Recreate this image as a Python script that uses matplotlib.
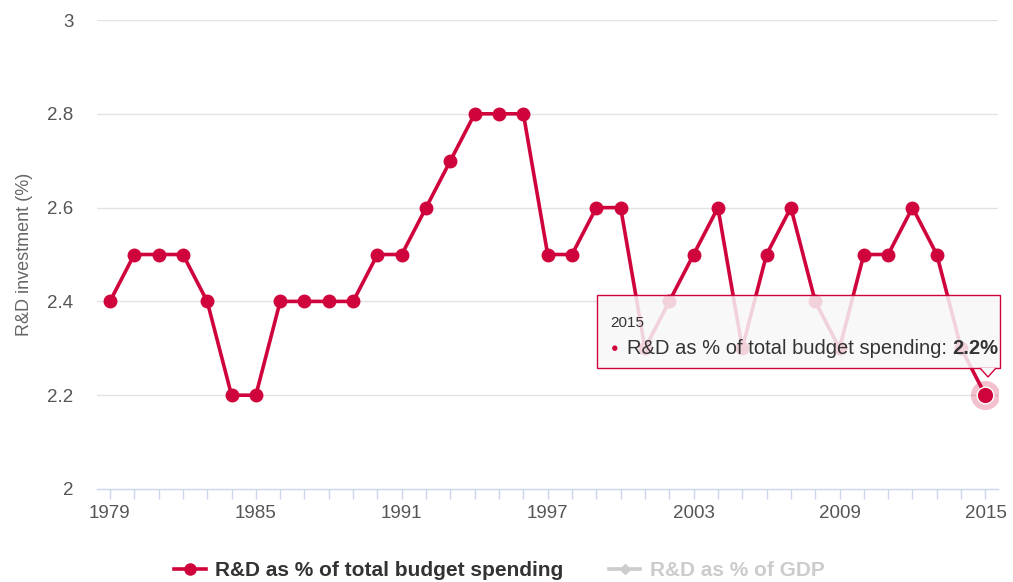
import matplotlib
matplotlib.use("Agg")
import matplotlib.pyplot as plt
from matplotlib.lines import Line2D
from matplotlib.patches import Rectangle, Polygon

# data
years = list(range(1979, 2016))
rd_budget = [2.4, 2.5, 2.5, 2.5, 2.4, 2.2, 2.2, 2.4, 2.4, 2.4,
             2.4, 2.5, 2.5, 2.6, 2.7, 2.8, 2.8, 2.8, 2.5, 2.5,
             2.6, 2.6, 2.3, 2.4, 2.5, 2.6, 2.3, 2.5, 2.6, 2.4,
             2.3, 2.5, 2.5, 2.6, 2.5, 2.3, 2.2]
x_labels = [1979, 1985, 1991, 1997, 2003, 2009, 2015]
y_ticks = [2, 2.2, 2.4, 2.6, 2.8, 3]
series_names = ["R&D as % of total budget spending", "R&D as % of GDP"]

red = "#d0043c"
axis_col = "#ccd6eb"

plt.rcParams['font.family'] = ['Liberation Sans', 'DejaVu Sans']

fig = plt.figure(figsize=(10.13, 5.82), dpi=100)
ax = fig.add_axes([0.0958, 0.1598, 0.889, 0.8058])

# main line
ax.plot(years, rd_budget, color=red, lw=2.6, marker="o", ms=9, zorder=3, solid_joinstyle="round")
# hovered point (last one)
ax.plot(years[-1], rd_budget[-1], "o", ms=21, color=red, alpha=0.25, mec="none", zorder=3)
ax.plot(years[-1], rd_budget[-1], "o", ms=12, color=red, mec="white", mew=1, zorder=4)

ax.set_xlim(1978.47, 2015.5)
ax.set_ylim(2, 3)
ax.set_yticks(y_ticks)
ax.set_yticklabels(["2", "2.2", "2.4", "2.6", "2.8", "3"])
ax.set_xticks(years, minor=True)
ax.set_xticks(x_labels)
ax.set_xticklabels([str(y) for y in x_labels])

# grid + spines
for v in y_ticks[1:]:
    ax.axhline(v, color="#e3e3e3", lw=1, zorder=1)
for s in ["top", "right", "left"]:
    ax.spines[s].set_visible(False)
ax.spines["bottom"].set_color(axis_col)
ax.spines["bottom"].set_linewidth(1)
ax.tick_params(axis="y", length=0, pad=17, labelsize=13.5, labelcolor="#555555")
ax.tick_params(axis="x", which="both", direction="out", length=7.5, width=1,
               color=axis_col, labelsize=13.5, labelcolor="#555555", pad=4)
ax.set_ylabel("R&D investment (%)", fontsize=13, color="#666666", labelpad=10)

# tooltip
tip = Rectangle((597 / 1013, 1 - 368 / 582), 403 / 1013, 73 / 582, transform=fig.transFigure,
                facecolor="#f7f7f7", alpha=0.85, edgecolor="none", zorder=5, clip_on=False)
ax.add_patch(tip)
border = Rectangle((597 / 1013, 1 - 368 / 582), 403 / 1013, 73 / 582, transform=fig.transFigure,
                   facecolor="none", edgecolor=red, lw=1, zorder=6, clip_on=False)
ax.add_patch(border)
notch = Polygon([(980 / 1013, 1 - 368 / 582), (988 / 1013, 1 - 377 / 582), (996 / 1013, 1 - 368 / 582)],
                closed=False, transform=fig.transFigure, facecolor="#f7f7f7", edgecolor=red,
                lw=1, zorder=6, clip_on=False)
ax.add_patch(notch)
fig.text(610 / 1013, 1 - 323 / 582, str(years[-1]), fontsize=11, color="#333333", va="center", zorder=7)
fig.text(611 / 1013, 1 - 349 / 582, "\u25cf", fontsize=9, color=red, va="center", zorder=7)
t1 = fig.text(627 / 1013, 1 - 349 / 582, series_names[0] + ": ", fontsize=14.5,
              color="#333333", va="center", zorder=7)
fig.canvas.draw()
bb = t1.get_window_extent()
fig.text(bb.x1 / 1013, 1 - 349 / 582, "%.1f%%" % rd_budget[-1], fontsize=14.5, fontweight="bold",
         color="#333333", va="center", zorder=7)

# legend
handles = [Line2D([], [], color=red, lw=2.6, marker="o", ms=8),
           Line2D([], [], color="#cccccc", lw=2.6, marker="D", ms=5.5)]
leg = fig.legend(handles, series_names, loc="center", bbox_to_anchor=(0.493, 1 - 571 / 582),
                 ncol=2, frameon=False, prop={"size": 15, "weight": "bold"},
                 handlelength=1.5, handletextpad=0.45, columnspacing=2.2)
leg.get_texts()[0].set_color("#333333")
leg.get_texts()[1].set_color("#cccccc")

fig.savefig("out.png", dpi=100)
